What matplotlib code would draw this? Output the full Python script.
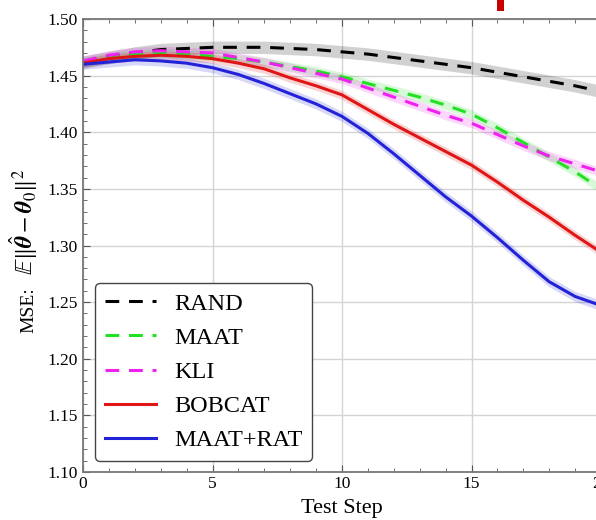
import numpy as np
import matplotlib.pyplot as plt
from matplotlib.patches import Rectangle
from matplotlib.ticker import MultipleLocator

plt.rcParams['font.family'] = 'Liberation Serif'
plt.rcParams['mathtext.fontset'] = 'stix'

steps = np.arange(21)

rand = [1.462, 1.466, 1.470, 1.473, 1.474, 1.475, 1.475, 1.475, 1.474, 1.473, 1.471,
        1.469, 1.466, 1.463, 1.460, 1.457, 1.453, 1.449, 1.445, 1.441, 1.436]
maat = [1.462, 1.466, 1.469, 1.470, 1.469, 1.467, 1.465, 1.462, 1.458, 1.454, 1.449,
        1.443, 1.437, 1.431, 1.424, 1.416, 1.404, 1.391, 1.378, 1.365, 1.350]
kli = [1.463, 1.468, 1.471, 1.472, 1.471, 1.470, 1.466, 1.462, 1.457, 1.452, 1.447,
       1.439, 1.431, 1.423, 1.415, 1.408, 1.398, 1.388, 1.379, 1.372, 1.365]
bobcat = [1.461, 1.465, 1.467, 1.468, 1.467, 1.465, 1.461, 1.456, 1.448, 1.441, 1.433,
          1.420, 1.407, 1.395, 1.383, 1.371, 1.356, 1.340, 1.325, 1.309, 1.294]
maat_rat = [1.460, 1.462, 1.464, 1.463, 1.461, 1.457, 1.451, 1.443, 1.434, 1.425, 1.414,
            1.399, 1.381, 1.362, 1.343, 1.326, 1.307, 1.287, 1.268, 1.255, 1.247]

# half width of the shaded bands
band = {'RAND': 0.0055, 'MAAT': 0.004, 'KLI': 0.004, 'BOBCAT': 0.004, 'MAAT+RAT': 0.0045}

series = [
    ('RAND', rand, 'black', '--'),
    ('MAAT', maat, '#22e022', '--'),
    ('KLI', kli, '#f020f0', '--'),
    ('BOBCAT', bobcat, '#e01515', '-'),
    ('MAAT+RAT', maat_rat, '#2222d8', '-'),
]

fig = plt.figure(figsize=(5.96, 5.2), dpi=100)
ax = fig.add_axes([83/596, 1 - 472/520, 518/596, 453/520])

for name, vals, col, ls in series:
    v = np.array(vals)
    ax.fill_between(steps, v - band[name], v + band[name], color=col, alpha=0.18, lw=0)
    line, = ax.plot(steps, v, color=col, ls=ls, lw=2.2, label=name)
    if ls == '--':
        line.set_dashes((4.5, 3.2))

ax.set_xlim(0, 20)
ax.set_ylim(1.10, 1.50)
ax.xaxis.set_major_locator(MultipleLocator(5))
ax.xaxis.set_minor_locator(MultipleLocator(1))
ax.yaxis.set_major_locator(MultipleLocator(0.05))
ax.yaxis.set_minor_locator(MultipleLocator(0.01))
ax.yaxis.set_major_formatter(plt.FormatStrFormatter('%.2f'))
ax.grid(True, which='major', color='#d4d4d4', lw=1)
ax.set_axisbelow(True)

ax.tick_params(which='both', direction='in', top=True, right=False, labelsize=12.5,
               color='#555555')
ax.tick_params(which='major', length=5)
ax.tick_params(which='minor', length=3)
ax.tick_params(axis='x', pad=3)
for s in ['left', 'bottom', 'top']:
    ax.spines[s].set_color('#777777')
    ax.spines[s].set_linewidth(1.3)
ax.spines['right'].set_visible(False)

ax.set_xlabel('Test Step', fontsize=16, labelpad=5)

# y label in two pieces: plain text and a larger math part
fig.text(33/596, 1 - 310/520, 'MSE:', fontsize=14, rotation=90,
         rotation_mode='anchor', ha='center', va='baseline')
fig.text(33/596, 1 - 222/520,
         r'$\mathbb{E}\Vert\hat{\mathbfit{\theta}} - \mathbfit{\theta}_0\Vert^2$',
         fontsize=17, rotation=90, rotation_mode='anchor', ha='center', va='baseline')

leg = ax.legend(loc='lower left', bbox_to_anchor=(0.023, 0.024), borderaxespad=0,
                fontsize=17.5, handlelength=2.1, labelspacing=0.5, borderpad=0.4,
                handletextpad=0.75, fancybox=True, framealpha=1)
leg.get_frame().set_edgecolor('#444444')
leg.get_frame().set_linewidth(1.0)

fig.add_artist(Rectangle((497/596, 1 - 11/520), 7/596, 11/520,
                         transform=fig.transFigure, color='#c80000', lw=0))

fig.savefig('out.png', dpi=100)
